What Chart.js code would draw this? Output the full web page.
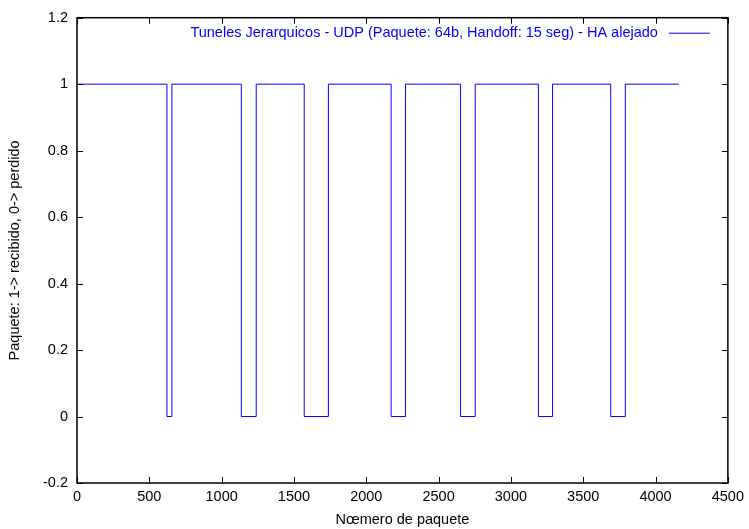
<!DOCTYPE html>
<html lang="en">
<head>
<meta charset="UTF-8">
<title>Tuneles Jerarquicos - UDP</title>
<script src="https://cdn.jsdelivr.net/npm/chart.js@4.4.1/dist/chart.umd.min.js"></script>
<style>
    body { margin: 0; background: #fff; }
    #wrap { width: 749px; height: 529px; }
</style>
</head>
<body>
<div id="wrap"><canvas id="lossChart" width="749" height="529"></canvas></div>
<script>
// packet numbers where loss starts / ends
const dropStart = [622, 1136, 1571, 2172, 2652, 3190, 3690];
const dropEnd = [656, 1239, 1738, 2271, 2753, 3288, 3791];
const lastPacket = 4161;
const xTicks = [0, 500, 1000, 1500, 2000, 2500, 3000, 3500, 4000, 4500];
const yTicks = [-0.2, 0, 0.2, 0.4, 0.6, 0.8, 1, 1.2];
const seriesLabel = 'Tuneles Jerarquicos - UDP (Paquete: 64b, Handoff: 15 seg) - HA alejado';

// build step points: 1 = received, 0 = lost
const points = [{ x: 0, y: 1 }];
dropStart.forEach((s, i) => {
    points.push({ x: s, y: 0 });
    points.push({ x: dropEnd[i], y: 1 });
});
points.push({ x: lastPacket, y: 1 });

const FONT = 'Liberation Sans, Arial, sans-serif';
const FSIZE = 14.5;

// gnuplot-ish frame: border box + inward ticks on all sides + key at top right
const framePlugin = {
    id: 'frame',
    afterDatasetsDraw(chart) {
        const ctx = chart.ctx;
        const a = chart.chartArea;
        const xs = chart.scales.x, ys = chart.scales.y;
        const tl = 6;
        ctx.save();
        ctx.strokeStyle = '#000';
        ctx.lineWidth = 1;
        ctx.beginPath();
        xTicks.forEach(v => {
            const px = Math.round(xs.getPixelForValue(v)) + 0.5;
            ctx.moveTo(px, a.bottom); ctx.lineTo(px, a.bottom - tl);
            ctx.moveTo(px, a.top); ctx.lineTo(px, a.top + tl);
        });
        yTicks.forEach(v => {
            const py = Math.round(ys.getPixelForValue(v)) + 0.5;
            ctx.moveTo(a.left, py); ctx.lineTo(a.left + tl, py);
            ctx.moveTo(a.right, py); ctx.lineTo(a.right - tl, py);
        });
        ctx.stroke();
        ctx.lineWidth = 1.5;
        ctx.strokeRect(a.left, a.top, a.right - a.left, a.bottom - a.top);

        // key
        const ds = chart.data.datasets[0];
        ctx.font = FSIZE + 'px ' + FONT;
        ctx.fillStyle = ds.borderColor;
        ctx.textAlign = 'right';
        ctx.textBaseline = 'middle';
        ctx.fillText(ds.label, a.right - 70, a.top + 15);
        ctx.strokeStyle = ds.borderColor;
        ctx.lineWidth = 1;
        ctx.beginPath();
        ctx.moveTo(a.right - 59, a.top + 15.5);
        ctx.lineTo(a.right - 18, a.top + 15.5);
        ctx.stroke();
        ctx.restore();
    }
};

new Chart(document.getElementById('lossChart'), {
    type: 'line',
    data: {
        datasets: [{
            label: seriesLabel,
            data: points,
            borderColor: '#0000ff',
            borderWidth: 1,
            stepped: 'before',
            pointRadius: 0,
            fill: false
        }]
    },
    options: {
        responsive: false,
        animation: false,
        layout: { padding: { top: 16, right: 12, left: 0, bottom: 0 } },
        plugins: {
            legend: { display: false },
            tooltip: { enabled: false }
        },
        scales: {
            x: {
                type: 'linear',
                min: 0,
                max: 4500,
                afterFit: s => { s.height = 46; },
                afterBuildTicks: s => { s.ticks = xTicks.map(v => ({ value: v })); },
                grid: { display: false, drawTicks: false },
                border: { display: false },
                ticks: {
                    color: '#000',
                    font: { family: FONT, size: FSIZE },
                    padding: 5,
                    maxRotation: 0,
                    callback: v => String(v)
                },
                title: {
                    display: true,
                    text: 'Nœmero de paquete',
                    color: '#000',
                    font: { family: FONT, size: FSIZE },
                    padding: { top: 0, bottom: 0 }
                }
            },
            y: {
                min: -0.2,
                max: 1.2,
                afterFit: s => { s.width = 77; },
                afterBuildTicks: s => { s.ticks = yTicks.map(v => ({ value: v })); },
                grid: { display: false, drawTicks: false },
                border: { display: false },
                ticks: {
                    color: '#000',
                    font: { family: FONT, size: FSIZE },
                    padding: 9,
                    callback: v => String(Math.round(v * 10) / 10)
                },
                title: {
                    display: true,
                    text: 'Paquete: 1-> recibido, 0-> perdido',
                    color: '#000',
                    font: { family: FONT, size: FSIZE },
                    padding: { top: 6, bottom: 0 }
                }
            }
        }
    },
    plugins: [framePlugin]
});
</script>
</body>
</html>
